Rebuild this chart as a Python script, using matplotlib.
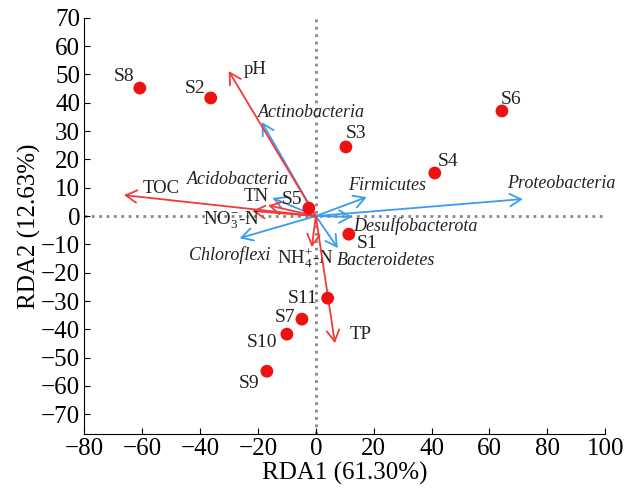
import numpy as np
import matplotlib
matplotlib.use('Agg')
import matplotlib.pyplot as plt

plt.rcParams['font.family'] = ['Liberation Serif', 'DejaVu Serif']
plt.rcParams['mathtext.fontset'] = 'stix'
plt.rcParams['mathtext.default'] = 'regular'

# Sample scores
samples = ['S1', 'S2', 'S3', 'S4', 'S5', 'S6', 'S7', 'S8', 'S9', 'S10', 'S11']
sample_x = [11.4, -36.3, 10.4, 41.1, -2.4, 64.3, -4.8, -60.8, -16.9, -10.0, 4.1]
sample_y = [-6.4, 41.7, 24.4, 15.2, 2.8, 37.1, -36.4, 45.2, -54.8, -41.7, -29.0]

# Environmental factor vectors
env_names = ['pH', 'TOC', 'TN', 'NO$_3^{-}$-N', 'NH$_4^{+}$-N', 'TP']
env_x = [-30.1, -66.3, -16.5, -22.0, -1.4, 6.6]
env_y = [51.2, 7.4, 3.8, 1.8, -11.0, -44.9]

# Phylum vectors
phyla = ['Actinobacteria', 'Acidobacteria', 'Firmicutes', 'Proteobacteria',
         'Desulfobacterota', 'Bacteroidetes', 'Chloroflexi']
phy_x = [-18.7, -15.0, 17.6, 71.5, 12.5, 7.6, -26.3]
phy_y = [33.2, 6.4, 6.7, 6.0, -0.3, -11.3, -7.8]

# label offsets (points)
sample_off = {'S1': (13, -6.5), 'S2': (-11, 7), 'S3': (7, 10), 'S4': (9.5, 8), 'S5': (-12, 6.5),
              'S6': (6.5, 8), 'S7': (-12, 1.5), 'S8': (-11.5, 8.5), 'S9': (-13, -8.5),
              'S10': (-18, -6), 'S11': (-18, -0.5)}
env_off = {'pH': (19, 1), 'TOC': (27, 5), 'TN': (-8.5, 6), 'NO$_3^{-}$-N': (-15, -7),
           'NH$_4^{+}$-N': (-4.5, -8), 'TP': (18.5, 6.5)}
phy_off = {'Actinobacteria': (36, 7), 'Acidobacteria': (-25, 13), 'Firmicutes': (15, 8),
           'Proteobacteria': (27.5, 11), 'Desulfobacterota': (46, -6.5),
           'Bacteroidetes': (35, -9), 'Chloroflexi': (-7, -12.5)}

red = '#f23a3a'
blue = '#3a9bf0'
head = '->,head_length=0.8,head_width=0.45'

fig = plt.figure(figsize=(6.24, 4.95), dpi=100)
ax = fig.add_axes([0.135, 0.123, 0.835, 0.841])

ax.axhline(0, color='#888888', linestyle=':', linewidth=2, zorder=1)
ax.axvline(0, color='#888888', linestyle=':', linewidth=2, zorder=1)

for name, x, y in zip(phyla, phy_x, phy_y):
    ax.annotate('', xy=(x, y), xytext=(0, 0),
                arrowprops=dict(arrowstyle=head, color=blue, lw=1.3, mutation_scale=10,
                                shrinkA=0, shrinkB=0), zorder=2)
    ax.annotate(name, xy=(x, y), xytext=phy_off[name], textcoords='offset points',
                ha='center', va='center', fontsize=13, style='italic', color='#222222')

for name, x, y in zip(env_names, env_x, env_y):
    ax.annotate('', xy=(x, y), xytext=(0, 0),
                arrowprops=dict(arrowstyle=head, color=red, lw=1.3, mutation_scale=10,
                                shrinkA=0, shrinkB=0), zorder=3)
    ax.annotate(name, xy=(x, y), xytext=env_off[name], textcoords='offset points',
                ha='center', va='center', fontsize=13.5, color='#222222')

ax.scatter(sample_x, sample_y, s=85, color='#ee1111', zorder=4, edgecolors='none')
for name, x, y in zip(samples, sample_x, sample_y):
    ax.annotate(name, xy=(x, y), xytext=sample_off[name], textcoords='offset points',
                ha='center', va='center', fontsize=14, color='#222222')

ax.set_xlim(-80, 100)
ax.set_ylim(-77, 70)
ax.set_xticks(np.arange(-80, 101, 20))
ax.set_yticks(np.arange(-70, 71, 10))
ax.tick_params(direction='in', length=4, labelsize=18, pad=3)
ax.spines['top'].set_visible(False)
ax.spines['right'].set_visible(False)
ax.set_xlabel('RDA1 (61.30%)', fontsize=18, labelpad=1)
ax.set_ylabel('RDA2 (12.63%)', fontsize=18, labelpad=0)

plt.savefig('out.png', dpi=100)
